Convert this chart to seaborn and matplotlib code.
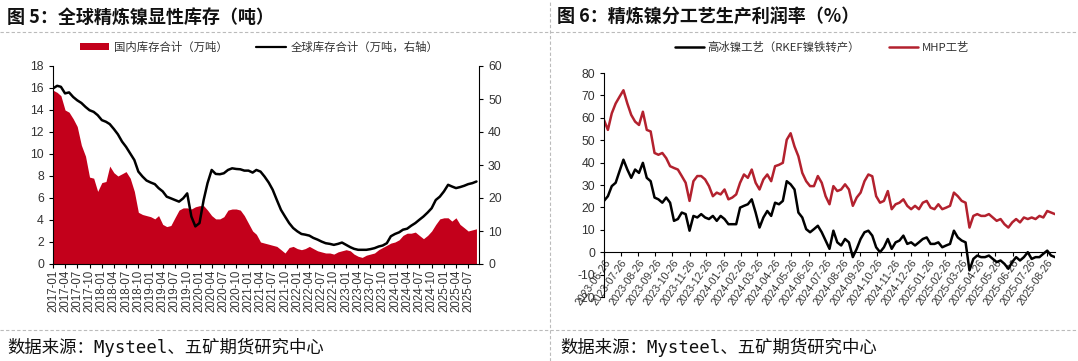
import numpy as np
import pandas as pd
import matplotlib
matplotlib.use("Agg")
import matplotlib.pyplot as plt
from matplotlib.patches import Patch
from matplotlib.lines import Line2D
import seaborn as sns

sns.set_theme(style="white")
plt.rcParams['font.family'] = ['Liberation Sans', 'Noto Sans CJK SC', 'DejaVu Sans']
plt.rcParams['axes.unicode_minus'] = False

# ---------------- Data: left chart (monthly, 2017-01 .. 2025-09) ----------------
domestic_stock = [
    15.8, 15.6, 15.3, 14.0, 13.8, 13.2, 12.5, 10.8, 9.8, 7.9, 7.8, 6.6,   # 2017
    7.4, 7.5, 8.9, 8.3, 8.0, 8.2, 8.4, 7.8, 6.6, 4.7, 4.5, 4.4,          # 2018
    4.3, 4.1, 4.4, 3.6, 3.4, 3.5, 4.2, 4.9, 5.1, 5.1, 5.0, 5.2,          # 2019
    5.3, 5.3, 4.9, 4.4, 4.1, 4.1, 4.3, 4.9, 5.0, 5.0, 4.9, 4.4,          # 2020
    3.7, 3.0, 2.7, 2.0, 1.9, 1.8, 1.7, 1.6, 1.3, 1.0, 1.5, 1.6,          # 2021
    1.4, 1.3, 1.4, 1.6, 1.4, 1.2, 1.1, 1.0, 1.0, 0.9, 1.1, 1.2,          # 2022
    1.3, 1.2, 0.9, 0.7, 0.6, 0.8, 0.9, 1.0, 1.3, 1.5, 1.7, 1.9,          # 2023
    2.0, 2.2, 2.6, 2.8, 2.8, 2.9, 2.6, 2.3, 2.6, 3.0, 3.6, 4.1,          # 2024
    4.2, 4.2, 3.9, 4.2, 3.6, 3.3, 3.0, 3.1, 3.2,                         # 2025
]
global_stock = [
    53.2, 54.0, 53.7, 51.7, 52.0, 50.6, 49.6, 48.8, 47.6, 46.6, 46.1, 45.1,  # 2017
    43.6, 43.1, 42.4, 40.9, 39.3, 37.1, 35.5, 33.5, 31.5, 28.0, 26.5, 25.3,  # 2018
    24.7, 24.2, 23.0, 22.0, 20.4, 19.9, 19.4, 18.9, 19.9, 21.4, 14.4, 11.4,  # 2019
    12.4, 19.4, 24.5, 28.5, 27.3, 27.2, 27.5, 28.5, 29.0, 28.8, 28.7, 28.3,  # 2020
    28.3, 27.7, 28.5, 28.0, 26.5, 24.7, 22.5, 19.4, 16.4, 14.4, 12.4, 10.9,  # 2021
    9.9, 9.1, 8.9, 8.6, 7.9, 7.4, 6.8, 6.3, 6.1, 5.8, 6.1, 6.5,              # 2022
    5.8, 5.1, 4.6, 4.3, 4.3, 4.3, 4.5, 4.8, 5.3, 5.6, 6.3, 8.4,              # 2023
    9.1, 9.6, 10.4, 10.7, 11.6, 12.4, 13.4, 14.4, 15.6, 16.9, 19.4, 20.4,    # 2024
    22.0, 24.0, 23.5, 23.0, 23.3, 23.7, 24.2, 24.5, 25.0,                    # 2025
]
left_dates = pd.date_range("2017-01-01", periods=len(domestic_stock), freq="MS")
left_tick_labels = [f"{y}-{m:02d}" for y in range(2017, 2026) for m in (1, 4, 7, 10)
                    if not (y == 2025 and m == 10)]

# ---------------- Data: right chart (weekly, 2023-06-26 .. 2025-09) ----------------
rkef_profit = [
    22.9, 25.0, 29.5, 31.0, 36.2, 41.3, 36.9, 33.2, 36.9, 35.4, 39.9, 33.2, 31.7,
    24.4, 23.6, 22.1, 24.4, 22.1, 14.0, 14.8, 17.7, 17.0, 9.6, 16.2, 15.5, 17.0,
    15.5, 14.8, 16.2, 14.0, 16.2, 14.8, 12.5, 12.5, 12.5, 19.9, 20.7, 21.4, 23.6,
    17.7, 11.0, 15.5, 18.4, 16.2, 22.1, 21.4, 22.9, 31.7, 30.3, 28.0, 17.7, 15.5,
    10.3, 8.9, 10.3, 11.8, 8.9, 5.2, 1.5, 9.6, 4.4, 3.0, 5.9, 4.4, -2.2, 1.5,
    5.9, 8.9, 9.6, 7.4, 2.2, 0.0, 2.2, 5.9, 1.5, 4.4, 5.2, 7.4, 3.7, 4.4, 3.0,
    4.4, 5.9, 6.6, 3.7, 3.7, 4.4, 2.2, 3.0, 3.7, 9.6, 6.6, 5.2, 4.4, -8.1, -3.0,
    -1.5, -2.2, -2.2, -1.5, -3.0, -4.4, -3.7, -5.2, -7.4, -4.4, -2.2, -3.7, -2.2,
    0.0, -3.0, -2.2, -2.2, -0.7, 0.7, -1.5, -2.2,
]
mhp_profit = [
    59.0, 54.6, 62.0, 66.4, 69.4, 72.3, 66.4, 61.3, 58.3, 56.8, 62.7, 54.6, 53.9,
    44.3, 43.5, 44.3, 42.0, 38.4, 37.6, 36.9, 34.0, 31.0, 22.9, 31.7, 34.0, 34.0,
    32.5, 29.5, 25.0, 26.6, 25.8, 28.0, 23.6, 24.4, 25.8, 31.0, 34.7, 33.2, 36.9,
    31.0, 28.0, 32.5, 34.7, 31.7, 38.4, 39.0, 39.9, 50.2, 53.1, 47.2, 42.8, 35.4,
    31.7, 29.5, 29.5, 34.0, 31.0, 25.0, 21.4, 29.5, 27.3, 28.0, 30.3, 28.0, 20.7,
    24.4, 26.6, 31.7, 34.7, 33.9, 25.0, 22.1, 22.9, 27.3, 19.2, 21.4, 22.1, 23.6,
    20.7, 19.2, 20.7, 19.2, 22.1, 22.9, 19.9, 19.2, 21.4, 19.2, 19.9, 20.7, 26.6,
    25.0, 22.9, 22.1, 11.0, 16.2, 17.0, 16.2, 16.2, 17.0, 15.5, 14.0, 14.8, 12.5,
    11.0, 13.3, 14.8, 13.3, 15.5, 14.8, 15.5, 14.8, 16.2, 15.5, 18.4, 17.7, 17.0,
]
right_dates = pd.date_range("2023-06-26", "2025-09-10", periods=len(mhp_profit))
right_ticks = pd.date_range("2023-06-26", periods=27, freq=pd.DateOffset(months=1))

RED_AREA = "#C3001B"
RED_LINE = "#B3212E"
TXT = "#333333"
CJK = ['Noto Sans CJK SC', 'DejaVu Sans']
FOOT = ['DejaVu Sans Mono', 'Noto Sans CJK SC']

fig = plt.figure(figsize=(10.78, 3.61), dpi=100)

# ---------------- Decorations ----------------
fig.add_artist(Line2D([0, 1], [1 - 32 / 361] * 2, color="#BBBBBB", lw=0.8, ls=(0, (3, 2))))
fig.add_artist(Line2D([0, 1], [1 - 330 / 361] * 2, color="#BBBBBB", lw=0.8, ls=(0, (3, 2))))
fig.add_artist(Line2D([550 / 1078] * 2, [0, 1], color="#BBBBBB", lw=0.8, ls=(0, (3, 2))))

fig.text(7 / 1078, 1 - 17 / 361, "图 5：全球精炼镍显性库存（吨）", fontsize=13, fontweight="bold",
         va="center", ha="left", color="#111111", family=CJK)
fig.text(557 / 1078, 1 - 17 / 361, "图 6：精炼镍分工艺生产利润率（%）", fontsize=13, fontweight="bold",
         va="center", ha="left", color="#111111", family=CJK)
fig.text(7 / 1078, 1 - 347 / 361, "数据来源：Mysteel、五矿期货研究中心", fontsize=12.5,
         va="center", ha="left", color="#111111", family=FOOT)
fig.text(560 / 1078, 1 - 347 / 361, "数据来源：Mysteel、五矿期货研究中心", fontsize=12.5,
         va="center", ha="left", color="#111111", family=FOOT)

# ---------------- Left chart ----------------
axL = fig.add_axes([53 / 1078, (361 - 264) / 361, 426 / 1078, 198 / 361])
axL.fill_between(left_dates, domestic_stock, 0, color=RED_AREA, lw=0)
axL.set_xlim(pd.Timestamp("2017-01-01"), pd.Timestamp("2025-09-20"))
axL.set_ylim(0, 18)
axL.set_yticks(np.arange(0, 19, 2))
axR = axL.twinx()
sns.lineplot(x=left_dates, y=global_stock, ax=axR, color="black", lw=1.8)
axR.set_ylim(0, 60)
axR.set_yticks(np.arange(0, 61, 10))

tick_pos = pd.to_datetime(left_tick_labels)
axL.set_xticks(tick_pos)
axL.set_xticklabels(left_tick_labels, rotation=90, fontsize=8.3, color=TXT)
for ax in (axL, axR):
    ax.spines["top"].set_visible(False)
    for s in ("left", "right", "bottom"):
        ax.spines[s].set_color("black")
        ax.spines[s].set_linewidth(0.8)
axL.spines["right"].set_visible(False)
axR.spines["left"].set_visible(False)
axR.spines["bottom"].set_visible(False)
axL.tick_params(axis="both", direction="out", length=3, width=0.8, color="black",
                labelsize=8.8, labelcolor=TXT, bottom=True, left=True)
axL.tick_params(axis="x", labelsize=8.3, pad=1)
axR.tick_params(axis="y", direction="out", length=3, width=0.8, color="black",
                labelsize=8.8, labelcolor=TXT, right=True)
axR.set_xlabel("")
axR.set_ylabel("")
axL.grid(False)
axR.grid(False)

legL = fig.legend(handles=[Patch(facecolor=RED_AREA, edgecolor="none"),
                           Line2D([], [], color="black", lw=1.6)],
                  labels=["国内库存合计（万吨）", "全球库存合计（万吨，右轴）"],
                  loc="center", bbox_to_anchor=(259 / 1078, 1 - 47 / 361), ncol=2,
                  frameon=False, fontsize=8.2, handlelength=2.6, handleheight=0.55,
                  columnspacing=2.5, handletextpad=0.4)
for t in legL.get_texts():
    t.set_color(TXT)
    t.set_family(CJK)

# ---------------- Right chart ----------------
ax2 = fig.add_axes([604 / 1078, (361 - 297) / 361, 451 / 1078, 224 / 361])
df2 = pd.DataFrame({"date": right_dates, "rkef": rkef_profit, "mhp": mhp_profit})
sns.lineplot(data=df2, x="date", y="rkef", ax=ax2, color="black", lw=1.8,
             label="高冰镍工艺（RKEF镍铁转产）")
sns.lineplot(data=df2, x="date", y="mhp", ax=ax2, color=RED_LINE, lw=1.8, label="MHP工艺")
ax2.spines["top"].set_visible(False)
ax2.spines["right"].set_visible(False)
ax2.spines["bottom"].set_position(("data", 0))
for s in ("left", "bottom"):
    ax2.spines[s].set_color("black")
    ax2.spines[s].set_linewidth(0.8)
ax2.set_xlim(right_dates[0], right_dates[-1])
ax2.set_ylim(-20, 80)
ax2.set_yticks(np.arange(-20, 81, 10))
ax2.set_xticks(right_ticks)
ax2.tick_params(axis="both", direction="out", length=3, width=0.8, color="black",
                labelsize=8.8, labelcolor=TXT, bottom=True, left=True)
ax2.tick_params(axis="x", labelsize=7.5, pad=1)
ax2.set_xticklabels([d.strftime("%Y-%m-%d") for d in right_ticks], rotation=55,
                    ha="right", rotation_mode="anchor", fontsize=7.5, color=TXT)
ax2.set_xlabel("")
ax2.set_ylabel("")
ax2.grid(False)
h, l = ax2.get_legend_handles_labels()
ax2.get_legend().remove()
leg2 = fig.legend(handles=h, labels=l, loc="center", bbox_to_anchor=(822 / 1078, 1 - 47 / 361),
                  ncol=2, frameon=False, fontsize=8.2, handlelength=2.6,
                  columnspacing=2.5, handletextpad=0.3)
for t in leg2.get_texts():
    t.set_color(TXT)
    t.set_family(CJK)

fig.savefig("out.png", dpi=100)
